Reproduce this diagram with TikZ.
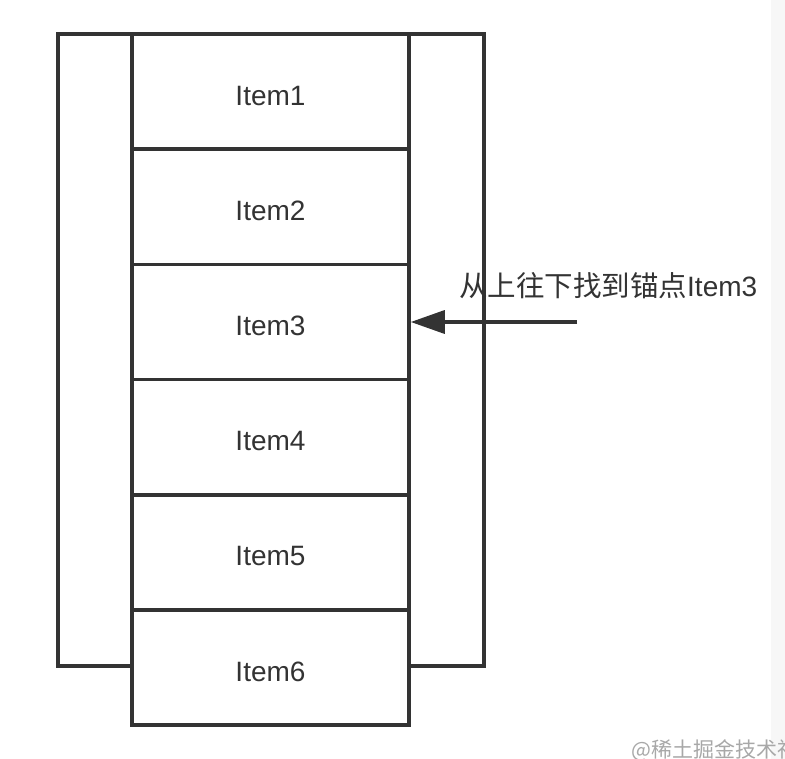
\documentclass[tikz,border=0pt]{standalone}
\usepackage{fontspec}
\setmainfont{Liberation Sans}
\newfontfamily\cjk{Noto Sans CJK SC}
\usetikzlibrary{arrows.meta}
\definecolor{linec}{HTML}{333333}
\definecolor{wmark}{HTML}{A8A8A8}
\begin{document}
\begin{tikzpicture}[x=1pt,y=-1pt,
  cell/.style={draw=linec, line width=3.5pt, fill=white, minimum width=277pt, minimum height=115.2pt, inner sep=0pt},
  itemtext/.style={yshift=-4pt, text=linec, font=\fontsize{28}{30}\selectfont},
  frame/.style={draw=linec, line width=3.5pt},
  pointer/.style={draw=linec, line width=3.5pt, -{Triangle[length=34pt,width=23pt]}}]
\useasboundingbox (0,0) rectangle (785,759);
\fill[white] (0,0) rectangle (785,759);
\fill[black!3] (771,0) rectangle (785,759);
\draw[frame] (58,34) rectangle (484,666);
\node[cell] (i1) at (270.5,91.6) {};
\node[cell] (i2) at (270.5,206.8) {};
\node[cell] (i3) at (270.5,322.0) {};
\node[cell] (i4) at (270.5,437.2) {};
\node[cell] (i5) at (270.5,552.4) {};
\node[cell] (i6) at (270.5,667.6) {};
\foreach \n in {1,...,6}{
  \node[itemtext] (t\n) at (i\n.center) {Item\n};
}
\coordinate (src) at (577,322);
\draw[pointer] (src) -- (i3.east);
\node[anchor=west, inner sep=0pt, text=linec, font=\fontsize{28}{32}\selectfont] (lab) at (459,286) {{\cjk\fontsize{28.5}{32}\selectfont 从上往下找到锚点}Item3};
\node[anchor=west, inner sep=0pt, text=wmark, font=\cjk\fontsize{21}{24}\selectfont] (wm) at (631,750) {@稀土掘金技术社区};
\end{tikzpicture}
\end{document}
